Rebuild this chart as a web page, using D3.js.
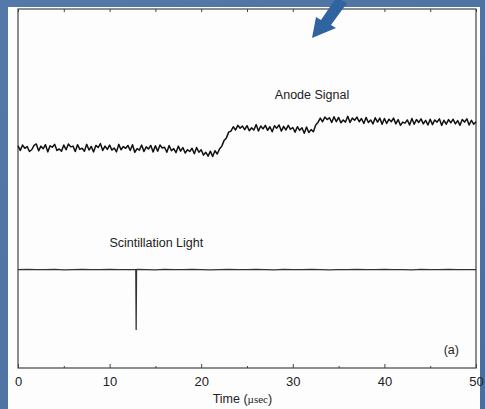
<!DOCTYPE html>
<html>
<head>
<meta charset="utf-8">
<script src="https://cdn.jsdelivr.net/npm/d3@7"></script>
<style>
  body { margin: 0; background: #4d72a3; }
  svg { display: block; }
</style>
</head>
<body>
<svg id="chart" width="485" height="409"></svg>
<script>
// anode signal, sampled every 0.25 usec from 0 to 50 (arbitrary units)
const anodeStep = 0.25;
const anodeValues = [
  6.19,6.06,6.21,6.12,6.17,6.03,6.08,6.20,6.24,6.05,6.18,6.11,6.22,6.02,6.19,6.15,6.23,6.06,6.10,6.04,
  6.21,6.08,6.24,6.16,6.18,6.03,6.22,6.09,6.12,6.04,6.23,6.07,6.17,6.02,6.20,6.14,6.25,6.06,6.18,6.09,
  6.21,6.07,6.13,6.02,6.23,6.08,6.17,6.12,6.20,6.06,6.22,6.01,6.11,6.07,6.21,6.03,6.16,6.10,6.20,6.02,
  6.19,6.04,6.21,6.13,6.15,6.01,6.20,6.05,6.11,6.00,6.18,6.04,6.14,5.99,6.08,6.03,6.12,5.97,6.14,6.01,
  6.08,5.93,6.01,5.90,6.04,5.89,6.05,5.96,6.10,6.18,6.34,6.41,6.57,6.60,6.72,6.63,6.76,6.68,6.74,6.64,
  6.75,6.61,6.69,6.63,6.78,6.60,6.74,6.66,6.76,6.62,6.72,6.58,6.75,6.68,6.77,6.60,6.73,6.63,6.76,6.65,
  6.70,6.57,6.72,6.62,6.69,6.54,6.71,6.56,6.64,6.58,6.77,6.84,6.96,6.86,6.99,6.92,6.97,6.84,7.00,6.86,
  6.98,6.83,6.91,6.85,7.01,6.84,6.96,6.90,6.99,6.86,6.95,6.81,6.98,6.84,6.91,6.80,6.97,6.85,6.96,6.79,
  6.95,6.81,6.93,6.86,6.96,6.80,6.92,6.76,6.85,6.82,6.91,6.77,6.95,6.79,6.92,6.84,6.94,6.80,6.90,6.77,
  6.93,6.78,6.91,6.85,6.94,6.76,6.90,6.79,6.92,6.83,6.93,6.80,6.89,6.76,6.92,6.85,6.94,6.77,6.90,6.79,
  6.86
];

// scintillation light baseline, every 1 usec
const lightStep = 1;
const lightValues = [
  2.74,2.745,2.74,2.74,2.745,2.735,2.74,2.745,2.74,2.74,
  2.745,2.74,2.74,2.745,2.74,2.735,2.745,2.74,2.74,2.745,
  2.74,2.735,2.74,2.745,2.74,2.74,2.745,2.74,2.735,2.745,
  2.74,2.74,2.745,2.74,2.735,2.74,2.74,2.745,2.74,2.74,
  2.745,2.74,2.74,2.735,2.745,2.74,2.74,2.745,2.74,2.74,
  2.74
];
// the light pulse
const pulseTimes = [12.86, 12.9, 12.94];
const pulseValues = [2.74, 1.06, 2.74];

const xTicks = [0, 10, 20, 30, 40, 50];
const xMinorTicks = [5, 15, 25, 35, 45];

const svg = d3.select("#chart");
const width = +svg.attr("width");
const height = +svg.attr("height");

// slide background
const defs = svg.append("defs");
const grad = defs.append("linearGradient").attr("id", "bg")
  .attr("x1", 0).attr("y1", 0).attr("x2", 1).attr("y2", 1);
grad.append("stop").attr("offset", "0%").attr("stop-color", "#5479a8");
grad.append("stop").attr("offset", "100%").attr("stop-color", "#4a6f9f");
svg.append("rect").attr("width", width).attr("height", height).attr("fill", "url(#bg)");

// white figure panel
svg.append("rect")
  .attr("x", 8).attr("y", 7)
  .attr("width", 472).attr("height", height - 7)
  .attr("fill", "#fdfdfd");

const x = d3.scaleLinear().domain([0, 50]).range([18, 476]);
const y = d3.scaleLinear().domain([0, 10]).range([368, 9]);

svg.append("rect")
  .attr("x", x(0)).attr("y", y(10))
  .attr("width", x(50) - x(0)).attr("height", y(0) - y(10))
  .attr("fill", "none")
  .attr("stroke", "#444")
  .attr("stroke-width", 1.2);

// bottom ticks pointing inward
svg.append("g")
  .attr("transform", `translate(0, ${y(0)})`)
  .call(d3.axisBottom(x).tickValues(xTicks).tickSize(-4).tickPadding(9).tickFormat(d3.format("d")))
  .call(g => g.select(".domain").remove())
  .call(g => g.selectAll("line").attr("stroke", "#444"))
  .call(g => g.selectAll("text")
    .attr("font-family", "Liberation Sans, Arial, sans-serif")
    .attr("font-size", 13)
    .attr("fill", "#222"));

svg.append("g")
  .attr("transform", `translate(0, ${y(0)})`)
  .call(d3.axisBottom(x).tickValues(xMinorTicks).tickSize(-2).tickFormat(""))
  .call(g => g.select(".domain").remove())
  .call(g => g.selectAll("line").attr("stroke", "#444"));

// top ticks
svg.append("g")
  .attr("transform", `translate(0, ${y(10)})`)
  .call(d3.axisTop(x).tickValues(xTicks.concat(xMinorTicks)).tickSize(-3).tickFormat(""))
  .call(g => g.select(".domain").remove())
  .call(g => g.selectAll("line").attr("stroke", "#444"));

// axis title
const title = svg.append("text")
  .attr("x", x(24.5))
  .attr("y", 403)
  .attr("text-anchor", "middle")
  .attr("font-family", "Liberation Sans, Arial, sans-serif")
  .attr("font-size", 12.5)
  .attr("fill", "#222");
title.append("tspan").text("Time (");
title.append("tspan").attr("font-family", "Liberation Serif, Times, serif").attr("font-size", 11).text("µsec");
title.append("tspan").text(")");

// traces
const anode = anodeValues.map((v, i) => ({ t: i * anodeStep, v }));
const light = lightValues.map((v, i) => ({ t: i * lightStep, v }))
  .concat(pulseTimes.map((t, i) => ({ t, v: pulseValues[i] })))
  .sort((a, b) => a.t - b.t);

const line = d3.line().x(d => x(d.t)).y(d => y(d.v));

svg.append("path")
  .datum(anode)
  .attr("d", line)
  .attr("fill", "none")
  .attr("stroke", "#111")
  .attr("stroke-width", 1.5)
  .attr("stroke-linejoin", "round");

svg.append("path")
  .datum(light)
  .attr("d", line)
  .attr("fill", "none")
  .attr("stroke", "#333")
  .attr("stroke-width", 1.3);

// labels
const labelFont = "Liberation Sans, Arial, sans-serif";
svg.append("text")
  .attr("x", x(32.1)).attr("y", 99)
  .attr("text-anchor", "middle")
  .attr("font-family", labelFont).attr("font-size", 12.5).attr("fill", "#222")
  .text("Anode Signal");

svg.append("text")
  .attr("x", x(15.1)).attr("y", 247)
  .attr("text-anchor", "middle")
  .attr("font-family", labelFont).attr("font-size", 12.5).attr("fill", "#222")
  .text("Scintillation Light");

svg.append("text")
  .attr("x", x(47.3)).attr("y", 354)
  .attr("text-anchor", "middle")
  .attr("font-family", labelFont).attr("font-size", 12.5).attr("fill", "#222")
  .text("(a)");

// blue pointer arrow from the slide
svg.append("path")
  .attr("d", "M341,0 L347,3 L331,25 L336,28 L312,38 L316,17 L321,20 L336,-2 Z")
  .attr("fill", "#2f64a0");
</script>
</body>
</html>
